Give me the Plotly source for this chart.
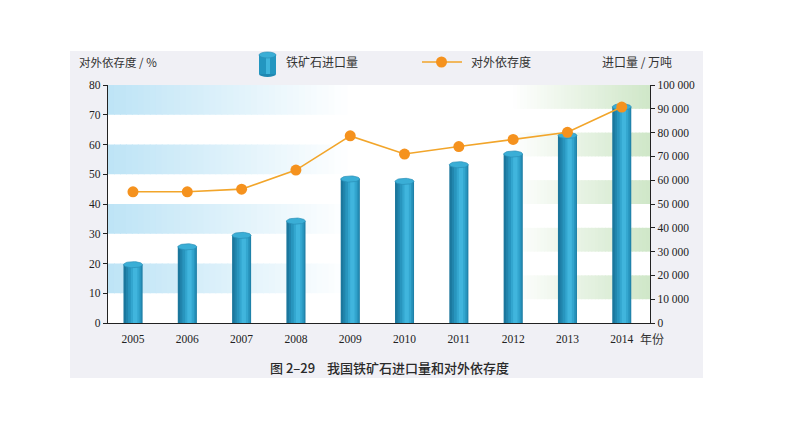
import plotly.graph_objects as go
import math

years = ["2005", "2006", "2007", "2008", "2009", "2010", "2011", "2012", "2013", "2014"]
imports = [24500, 32000, 36800, 42800, 60500, 59500, 66500, 71000, 78800, 90800]  # 万吨
dependency = [44.1, 44.1, 45.0, 51.4, 62.9, 56.8, 59.3, 61.7, 64.1, 72.6]  # %
left_ticks = list(range(0, 81, 10))
right_ticks = list(range(0, 100001, 10000))
right_labels = ["0" if v == 0 else f"{v // 1000} 000" for v in right_ticks]

W, H = 794, 447
L, R, T, B = 108, 650, 85, 323  # plot area px


def px(x):
    return (x - L) / (R - L)


def py(y):
    return (B - y) / (B - T)


def mix(c, a):
    # blend colour c with white by factor a (opaque)
    return "rgb(%d,%d,%d)" % tuple(round(255 + (ch - 255) * a) for ch in c)


SERIF = "Liberation Serif"
CJK = "Noto Sans CJK SC"

fig = go.Figure()

idx = list(range(len(years)))
# cylinder body layers
layers = [(0.35, -0.175, "#1b779d"), (0.30, -0.13, "#2185ad"), (0.24, -0.09, "#2895be"),
          (0.16, -0.04, "#33a6cf"), (0.08, 0.0, "#40b5dd")]
for w, off, col in layers:
    fig.add_trace(go.Bar(x=idx, y=imports, width=w, offset=off, marker=dict(color=col, line=dict(width=0)),
                         yaxis="y", hoverinfo="skip", cliponaxis=False))

# cylinder caps (ellipses)
cap_rx, cap_ry = 0.175, 1300
ts = [2 * math.pi * k / 40 for k in range(41)]
for i, v in zip(idx, imports):
    fig.add_trace(go.Scatter(
        x=[i + cap_rx * math.cos(t) for t in ts],
        y=[v + cap_ry * math.sin(t) for t in ts],
        mode="lines", fill="toself", fillcolor="#3aaed6",
        line=dict(color="#2a8fb8", width=0.7), yaxis="y", hoverinfo="skip"))

# dependency line
fig.add_trace(go.Scatter(x=idx, y=dependency, mode="lines+markers", yaxis="y2",
                         line=dict(color="#f2a52a", width=1.6),
                         marker=dict(color="#f5921e", size=11, line=dict(width=0)), hoverinfo="skip"))

shapes = []
# panel background
shapes.append(dict(type="rect", xref="paper", yref="paper", x0=px(70), x1=px(703), y0=py(378), y1=py(51),
                   fillcolor="#f0f0f5", line=dict(width=0), layer="below"))
shapes.append(dict(type="rect", xref="paper", yref="paper", x0=0, x1=1, y0=0, y1=1,
                   fillcolor="white", line=dict(width=0), layer="below"))

# blue gradient stripes (left axis)
N = 40
ov = 0.002
blue = (190, 228, 246)
green = (208, 231, 201)
for lo in [10, 30, 50, 70]:
    for k in range(N):
        a = 1 - k / N
        shapes.append(dict(type="rect", xref="paper", yref="y2", x0=0.44 * k / N, x1=0.44 * (k + 1) / N + ov,
                           y0=lo, y1=lo + 10, fillcolor=mix(blue, a),
                           line=dict(width=0), layer="below"))
# green gradient stripes (right axis)
for lo in [10000, 30000, 50000, 70000, 90000]:
    for k in range(N):
        a = (k + 1) / N
        x0 = 0.75 + 0.25 * k / N
        shapes.append(dict(type="rect", xref="paper", yref="y", x0=x0 - ov, x1=x0 + 0.25 / N,
                           y0=lo, y1=lo + 10000, fillcolor=mix(green, a),
                           line=dict(width=0), layer="below"))

# legend icons
shapes.append(dict(type="circle", xref="paper", yref="paper", x0=px(259), x1=px(276), y0=py(77), y1=py(71),
                   fillcolor="#1f88b2", line=dict(width=0)))
shapes.append(dict(type="rect", xref="paper", yref="paper", x0=px(259), x1=px(276), y0=py(74), y1=py(55),
                   fillcolor="#2396c0", line=dict(width=0)))
shapes.append(dict(type="rect", xref="paper", yref="paper", x0=px(266), x1=px(270), y0=py(74), y1=py(55),
                   fillcolor="#40b5dc", line=dict(width=0)))
shapes.append(dict(type="circle", xref="paper", yref="paper", x0=px(259), x1=px(276), y0=py(58), y1=py(52),
                   fillcolor="#3aaed6", line=dict(color="#2a8fb8", width=0.7)))
shapes.append(dict(type="line", xref="paper", yref="paper", x0=px(422), x1=px(462), y0=py(62), y1=py(62),
                   line=dict(color="#f2a52a", width=1.6)))
shapes.append(dict(type="circle", xref="paper", yref="paper", x0=px(436), x1=px(447), y0=py(67.5), y1=py(56.5),
                   fillcolor="#f5921e", line=dict(width=0)))

annotations = [
    dict(text="对外依存度 / %", x=px(77), y=py(62), xanchor="left", yanchor="middle",
         font=dict(family=CJK, size=11.5, color="#333")),
    dict(text="铁矿石进口量", x=px(284), y=py(62), xanchor="left", yanchor="middle",
         font=dict(family=CJK, size=12, color="#333")),
    dict(text="对外依存度", x=px(469), y=py(62), xanchor="left", yanchor="middle",
         font=dict(family=CJK, size=12, color="#333")),
    dict(text="进口量 / 万吨", x=px(600), y=py(62), xanchor="left", yanchor="middle",
         font=dict(family=CJK, size=12, color="#333")),
    dict(text="年份", x=px(638), y=py(338), xanchor="left", yanchor="middle",
         font=dict(family=CJK, size=12, color="#333")),
    dict(text="图 2–29    我国铁矿石进口量和对外依存度", x=px(389), y=py(367), xanchor="center",
         yanchor="middle", font=dict(family=CJK, size=13, color="#2a2a2a", weight=500)),
]
for a in annotations:
    a.update(xref="paper", yref="paper", showarrow=False)

fig.update_layout(
    width=W, height=H,
    margin=dict(l=L, r=W - R, t=T, b=H - B, pad=0),
    paper_bgcolor="white", plot_bgcolor="rgba(0,0,0,0)",
    barmode="overlay", showlegend=False,
    shapes=shapes, annotations=annotations,
    xaxis=dict(tickmode="array", tickvals=idx, ticktext=years, range=[-0.46, 9.52],
               showline=True, linecolor="#222", linewidth=1.2, ticks="", showgrid=False, zeroline=False,
               ticklabelstandoff=5,
               tickfont=dict(family=SERIF, size=11.5, color="#222"), fixedrange=True),
    yaxis=dict(range=[0, 100000], side="right", tickmode="array", tickvals=right_ticks, ticktext=right_labels,
               showline=True, linecolor="#222", linewidth=1.2, ticks="outside", ticklen=4, tickcolor="#222",
               showgrid=False, zeroline=False, tickfont=dict(family=SERIF, size=11.5, color="#222")),
    yaxis2=dict(range=[0, 80], side="left", overlaying="y", tickmode="array", tickvals=left_ticks,
                showline=True, linecolor="#222", linewidth=1.2, ticks="outside", ticklen=4, tickcolor="#222",
                showgrid=False, zeroline=False, tickfont=dict(family=SERIF, size=11.5, color="#222")),
)

fig.write_html("out.html")
